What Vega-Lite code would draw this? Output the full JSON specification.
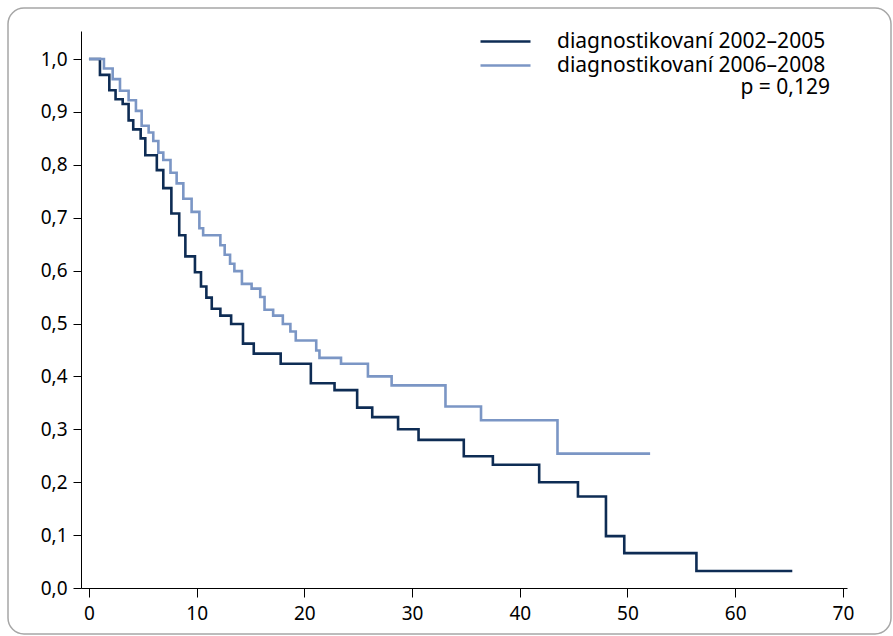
{
  "$schema": "https://vega.github.io/schema/vega-lite/v6.json",
  "width": 883,
  "height": 626,
  "padding": {"left": 8, "top": 8, "right": 2, "bottom": 2},
  "autosize": {"type": "none"},
  "background": "white",
  "config": {
    "view": {"stroke": "#a6a6a6", "strokeWidth": 1.5, "cornerRadius": 16},
    "font": "Noto Sans",
    "axis": {
      "domainColor": "black",
      "tickColor": "black",
      "tickSize": 8,
      "labelFontSize": 19,
      "labelColor": "black",
      "grid": false,
      "title": null,
      "labelFont": "Noto Sans"
    }
  },
  "datasets": {
    "km": [
      {"t": 0, "s": 1.0, "g": "diagnostikovaní 2002–2005"},
      {"t": 1.02, "s": 0.970, "g": "diagnostikovaní 2002–2005"},
      {"t": 1.89, "s": 0.941, "g": "diagnostikovaní 2002–2005"},
      {"t": 2.47, "s": 0.924, "g": "diagnostikovaní 2002–2005"},
      {"t": 3.13, "s": 0.915, "g": "diagnostikovaní 2002–2005"},
      {"t": 3.68, "s": 0.884, "g": "diagnostikovaní 2002–2005"},
      {"t": 4.11, "s": 0.867, "g": "diagnostikovaní 2002–2005"},
      {"t": 4.8, "s": 0.850, "g": "diagnostikovaní 2002–2005"},
      {"t": 5.23, "s": 0.818, "g": "diagnostikovaní 2002–2005"},
      {"t": 6.3, "s": 0.790, "g": "diagnostikovaní 2002–2005"},
      {"t": 6.9, "s": 0.756, "g": "diagnostikovaní 2002–2005"},
      {"t": 7.65, "s": 0.708, "g": "diagnostikovaní 2002–2005"},
      {"t": 8.38, "s": 0.667, "g": "diagnostikovaní 2002–2005"},
      {"t": 8.95, "s": 0.627, "g": "diagnostikovaní 2002–2005"},
      {"t": 9.84, "s": 0.597, "g": "diagnostikovaní 2002–2005"},
      {"t": 10.4, "s": 0.570, "g": "diagnostikovaní 2002–2005"},
      {"t": 10.9, "s": 0.549, "g": "diagnostikovaní 2002–2005"},
      {"t": 11.4, "s": 0.528, "g": "diagnostikovaní 2002–2005"},
      {"t": 12.2, "s": 0.515, "g": "diagnostikovaní 2002–2005"},
      {"t": 13.2, "s": 0.499, "g": "diagnostikovaní 2002–2005"},
      {"t": 14.3, "s": 0.462, "g": "diagnostikovaní 2002–2005"},
      {"t": 15.3, "s": 0.443, "g": "diagnostikovaní 2002–2005"},
      {"t": 17.8, "s": 0.424, "g": "diagnostikovaní 2002–2005"},
      {"t": 20.6, "s": 0.387, "g": "diagnostikovaní 2002–2005"},
      {"t": 22.8, "s": 0.374, "g": "diagnostikovaní 2002–2005"},
      {"t": 24.9, "s": 0.341, "g": "diagnostikovaní 2002–2005"},
      {"t": 26.3, "s": 0.323, "g": "diagnostikovaní 2002–2005"},
      {"t": 28.7, "s": 0.300, "g": "diagnostikovaní 2002–2005"},
      {"t": 30.6, "s": 0.280, "g": "diagnostikovaní 2002–2005"},
      {"t": 34.8, "s": 0.249, "g": "diagnostikovaní 2002–2005"},
      {"t": 37.5, "s": 0.233, "g": "diagnostikovaní 2002–2005"},
      {"t": 41.8, "s": 0.200, "g": "diagnostikovaní 2002–2005"},
      {"t": 45.4, "s": 0.173, "g": "diagnostikovaní 2002–2005"},
      {"t": 48.0, "s": 0.098, "g": "diagnostikovaní 2002–2005"},
      {"t": 49.7, "s": 0.066, "g": "diagnostikovaní 2002–2005"},
      {"t": 56.4, "s": 0.032, "g": "diagnostikovaní 2002–2005"},
      {"t": 65.3, "s": 0.032, "g": "diagnostikovaní 2002–2005"},
      {"t": 0, "s": 1.0, "g": "diagnostikovaní 2006–2008"},
      {"t": 1.39, "s": 0.982, "g": "diagnostikovaní 2006–2008"},
      {"t": 2.2, "s": 0.962, "g": "diagnostikovaní 2006–2008"},
      {"t": 2.88, "s": 0.940, "g": "diagnostikovaní 2006–2008"},
      {"t": 3.68, "s": 0.922, "g": "diagnostikovaní 2006–2008"},
      {"t": 4.36, "s": 0.902, "g": "diagnostikovaní 2006–2008"},
      {"t": 4.89, "s": 0.874, "g": "diagnostikovaní 2006–2008"},
      {"t": 5.54, "s": 0.861, "g": "diagnostikovaní 2006–2008"},
      {"t": 5.97, "s": 0.845, "g": "diagnostikovaní 2006–2008"},
      {"t": 6.44, "s": 0.823, "g": "diagnostikovaní 2006–2008"},
      {"t": 6.9, "s": 0.809, "g": "diagnostikovaní 2006–2008"},
      {"t": 7.57, "s": 0.785, "g": "diagnostikovaní 2006–2008"},
      {"t": 8.14, "s": 0.765, "g": "diagnostikovaní 2006–2008"},
      {"t": 8.76, "s": 0.736, "g": "diagnostikovaní 2006–2008"},
      {"t": 9.53, "s": 0.711, "g": "diagnostikovaní 2006–2008"},
      {"t": 10.25, "s": 0.680, "g": "diagnostikovaní 2006–2008"},
      {"t": 10.6, "s": 0.667, "g": "diagnostikovaní 2006–2008"},
      {"t": 12.2, "s": 0.648, "g": "diagnostikovaní 2006–2008"},
      {"t": 12.6, "s": 0.630, "g": "diagnostikovaní 2006–2008"},
      {"t": 13.1, "s": 0.613, "g": "diagnostikovaní 2006–2008"},
      {"t": 13.5, "s": 0.599, "g": "diagnostikovaní 2006–2008"},
      {"t": 14.2, "s": 0.575, "g": "diagnostikovaní 2006–2008"},
      {"t": 15.1, "s": 0.566, "g": "diagnostikovaní 2006–2008"},
      {"t": 15.9, "s": 0.550, "g": "diagnostikovaní 2006–2008"},
      {"t": 16.3, "s": 0.526, "g": "diagnostikovaní 2006–2008"},
      {"t": 17.1, "s": 0.515, "g": "diagnostikovaní 2006–2008"},
      {"t": 18.0, "s": 0.499, "g": "diagnostikovaní 2006–2008"},
      {"t": 18.7, "s": 0.485, "g": "diagnostikovaní 2006–2008"},
      {"t": 19.2, "s": 0.468, "g": "diagnostikovaní 2006–2008"},
      {"t": 21.1, "s": 0.449, "g": "diagnostikovaní 2006–2008"},
      {"t": 21.4, "s": 0.435, "g": "diagnostikovaní 2006–2008"},
      {"t": 23.4, "s": 0.424, "g": "diagnostikovaní 2006–2008"},
      {"t": 25.9, "s": 0.400, "g": "diagnostikovaní 2006–2008"},
      {"t": 28.1, "s": 0.383, "g": "diagnostikovaní 2006–2008"},
      {"t": 33.1, "s": 0.343, "g": "diagnostikovaní 2006–2008"},
      {"t": 36.4, "s": 0.317, "g": "diagnostikovaní 2006–2008"},
      {"t": 43.5, "s": 0.254, "g": "diagnostikovaní 2006–2008"},
      {"t": 52.1, "s": 0.254, "g": "diagnostikovaní 2006–2008"}
    ],
    "note": [
      {"x": 68.8, "y": 0.945, "label": "p = 0,129"}
    ]
  },
  "layer": [
    {
      "data": {"name": "km"},
      "mark": {"type": "line", "interpolate": "step-after", "strokeWidth": 2.6, "clip": false},
      "encoding": {
        "x": {
          "field": "t",
          "type": "quantitative",
          "scale": {"domain": [-0.74, 70.38], "range": [73, 839], "nice": false, "zero": false},
          "axis": {"values": [0, 10, 20, 30, 40, 50, 60, 70], "offset": -46, "labelPadding": 7, "tickSize": 9}
        },
        "y": {
          "field": "s",
          "type": "quantitative",
          "scale": {"domain": [0, 1.053], "range": [580, 23], "nice": false},
          "axis": {
            "values": [0, 0.1, 0.2, 0.3, 0.4, 0.5, 0.6, 0.7, 0.8, 0.9, 1.0],
            "format": ".1f",
            "labelExpr": "replace(datum.label, '.', ',')",
            "offset": -73,
            "labelPadding": 6
          }
        },
        "color": {
          "field": "g",
          "type": "nominal",
          "scale": {
            "domain": ["diagnostikovaní 2002–2005", "diagnostikovaní 2006–2008"],
            "range": ["#0e2c54", "#7b96c5"]
          },
          "legend": {
            "orient": "none",
            "legendX": 487,
            "legendY": 23,
            "title": null,
            "symbolType": "M-5,0H5",
            "symbolSize": 100,
            "symbolStrokeWidth": 2.6,
            "labelFontSize": 21,
            "labelFont": "Noto Sans",
            "labelColor": "black",
            "labelOffset": 41,
            "labelLimit": 500,
            "rowPadding": 2,
            "padding": 0
          }
        }
      }
    },
    {
      "data": {"name": "note"},
      "mark": {"type": "text", "align": "right", "baseline": "middle", "fontSize": 21, "font": "Noto Sans", "color": "black"},
      "encoding": {
        "x": {"field": "x", "type": "quantitative"},
        "y": {"field": "y", "type": "quantitative"},
        "text": {"field": "label"}
      }
    }
  ]
}
